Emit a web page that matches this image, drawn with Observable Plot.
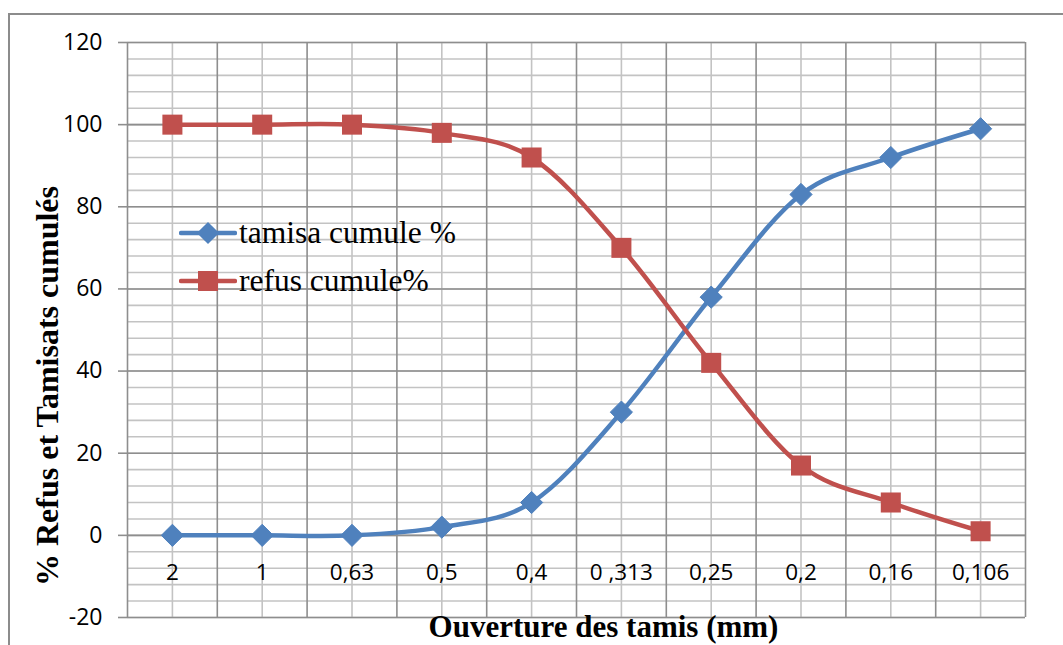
<!DOCTYPE html>
<html>
<head>
<meta charset="utf-8">
<script src="https://cdn.jsdelivr.net/npm/d3@7"></script>
<script src="https://cdn.jsdelivr.net/npm/@observablehq/plot@0.6"></script>
<style>
  html, body { margin: 0; padding: 0; background: #fff; overflow: hidden; }
  #wrap { position: relative; width: 1063px; height: 645px; }
  #frame { position: absolute; left: 8px; top: 13px; width: 1200px; height: 800px; border: 2px solid #8c8c8c; box-sizing: border-box; pointer-events: none; }
  #legend { position: absolute; left: 179px; top: 209px; font-family: "Liberation Serif", serif; font-size: 31.5px; color: #000; }
  .item { display: flex; align-items: center; height: 48px; }
  .item svg { margin-right: 2px; }
</style>
</head>
<body>
<div id="wrap">
  <div id="frame"></div>
  <div id="chart"></div>
  <div id="legend"></div>
</div>
<script>
const sizes = ["2", "1", "0,63", "0,5", "0,4", "0 ,313", "0,25", "0,2", "0,16", "0,106"];
const tamisa = [0, 0, 0, 2, 8, 30, 58, 83, 92, 99];
const refus = [100, 100, 100, 98, 92, 70, 42, 17, 8, 1];
const yTicks = [-20, 0, 20, 40, 60, 80, 100, 120];
const seriesNames = ["tamisa cumule %", "refus cumule%"];
const colors = ["#4F81BD", "#C0504D"];
const xTitle = "Ouverture des tamis (mm)";
const yTitle = "% Refus et Tamisats cumulés";

const rows = sizes.map((s, i) => ({i, size: s, tamisa: tamisa[i], refus: refus[i]}));
const minorY = d3.range(-20, 121, 4);
const centers = d3.range(0, sizes.length);
const bounds = d3.range(-0.5, sizes.length, 1);
const curve = d3.curveCardinal.tension(0);

const chart = Plot.plot({
  width: 1063,
  height: 645,
  marginLeft: 127,
  marginRight: 38,
  marginTop: 42,
  marginBottom: 28,
  style: {background: "transparent", fontFamily: "'Open Sans', sans-serif", overflow: "visible"},
  x: {type: "linear", domain: [-0.5, sizes.length - 0.5], axis: null},
  y: {domain: [-20, 120], axis: null},
  marks: [
    Plot.ruleY(minorY, {stroke: "#c3c3c3", strokeWidth: 1.6}),
    Plot.ruleX(centers, {stroke: "#c3c3c3", strokeWidth: 1.6}),
    Plot.ruleY(yTicks, {stroke: "#8e8e8e", strokeWidth: 1.6}),
    Plot.ruleX(bounds, {stroke: "#8e8e8e", strokeWidth: 1.6}),
    Plot.axisY({ticks: yTicks, tickFormat: d => String(d), tickSize: 9, tickPadding: 16, fontSize: 23, label: null, stroke: "#8e8e8e", strokeWidth: 1.6, fill: "#000"}),
    Plot.text(rows, {x: "i", y: () => 0, text: "size", dy: 37, fontSize: 22.5, fill: "#000"}),
    Plot.line(rows, {x: "i", y: "tamisa", stroke: colors[0], strokeWidth: 4.5, curve}),
    Plot.line(rows, {x: "i", y: "refus", stroke: colors[1], strokeWidth: 4.5, curve}),
    Plot.dot(rows, {x: "i", y: "tamisa", symbol: "diamond2", r: 10, fill: colors[0], stroke: colors[0], strokeWidth: 1}),
    Plot.dot(rows, {x: "i", y: "refus", symbol: "square", r: 11.3, fill: colors[1], stroke: "none"}),
    Plot.text([yTitle], {frameAnchor: "left", textAnchor: "middle", rotate: -90, dx: -80, dy: 56, fontSize: 32, fontWeight: "bold", fontFamily: "'Liberation Serif', serif", fill: "#000"}),
    Plot.text([xTitle], {frameAnchor: "bottom", textAnchor: "middle", dx: 27, dy: 10, lineAnchor: "middle", fontSize: 31, fontWeight: "bold", fontFamily: "'Liberation Serif', serif", fill: "#000"})
  ]
});
document.getElementById("chart").appendChild(chart);

// legend
const legend = d3.select("#legend");
seriesNames.forEach((name, k) => {
  const item = legend.append("div").attr("class", "item");
  const svg = item.append("svg").attr("width", 58).attr("height", 26);
  svg.append("line").attr("x1", 2).attr("x2", 56).attr("y1", 13).attr("y2", 13)
    .attr("stroke", colors[k]).attr("stroke-width", 4.5).attr("stroke-linecap", "round");
  if (k === 0) {
    svg.append("path").attr("d", d3.symbol(d3.symbolDiamond2, Math.PI * 10 * 10)()).attr("transform", "translate(29,13)").attr("fill", colors[k]);
  } else {
    svg.append("rect").attr("x", 19).attr("y", 3).attr("width", 20).attr("height", 20).attr("fill", colors[k]);
  }
  item.append("span").text(name);
});
</script>
</body>
</html>
